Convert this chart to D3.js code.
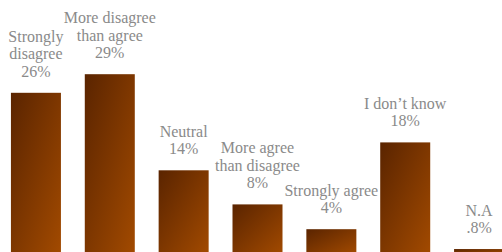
<!DOCTYPE html>
<html lang="en">
<head>
	<meta charset="utf-8">
	<script src="https://cdn.jsdelivr.net/npm/d3@7/dist/d3.min.js"></script>
</head>
<style>
	body
	{
		margin: 0;
		background: #ffffff;
	}

	.label
	{
		font-family: "Liberation Serif", "Times New Roman", serif;
		font-size: 16px;
		fill: #8a8a8a;
	}
</style>

<body>

	<svg id="barChart" width="502" height="252"></svg>
	<script type="text/javascript">

		// data
		var categories = [
			['Strongly', 'disagree'],
			['More disagree', 'than agree'],
			['Neutral'],
			['More agree', 'than disagree'],
			['Strongly agree'],
			['I don\u2019t know'],
			['N.A']
		];
		var values = [26, 29, 13.5, 8, 4, 18, 0.8];
		var valueLabels = ['26%', '29%', '14%', '8%', '4%', '18%', '.8%'];

		var svg = d3.select('#barChart');

		var x = d3.scaleBand()
			.domain(d3.range(values.length))
			.range([-1, 516])
			.paddingInner(0.323)
			.paddingOuter(0.1615);

		var y = d3.scaleLinear()
			.domain([0, 30])
			.range([254, 68]);

		var defs = svg.append('defs');
		var grad = defs.append('linearGradient')
			.attr('id', 'barGrad')
			.attr('x1', 0).attr('y1', 0)
			.attr('x2', 1).attr('y2', 1);
		grad.append('stop').attr('offset', '0%').attr('stop-color', '#5a2400');
		grad.append('stop').attr('offset', '100%').attr('stop-color', '#a24a00');

		svg.selectAll('.bar')
			.data(values)
			.enter().append('rect')
			.attr('class', 'bar')
			.attr('x', function(d, i) { return x(i); })
			.attr('y', function(d) { return y(d); })
			.attr('width', x.bandwidth())
			.attr('height', function(d) { return y(0) - y(d); })
			.attr('fill', 'url(#barGrad)');

		var lineH = 17.5;

		var labels = svg.selectAll('.label')
			.data(values)
			.enter().append('text')
			.attr('class', 'label')
			.attr('text-anchor', 'middle');

		labels.each(function(d, i) {
			var t = d3.select(this);
			var lines = categories[i].concat([valueLabels[i]]);
			var cx = x(i) + x.bandwidth() / 2;
			var base = y(d) - 16;
			lines.forEach(function(s, k) {
				t.append('tspan')
					.attr('x', cx)
					.attr('y', base - (lines.length - 1 - k) * lineH)
					.text(s);
			});
		});
	</script>
</body>
</html>
